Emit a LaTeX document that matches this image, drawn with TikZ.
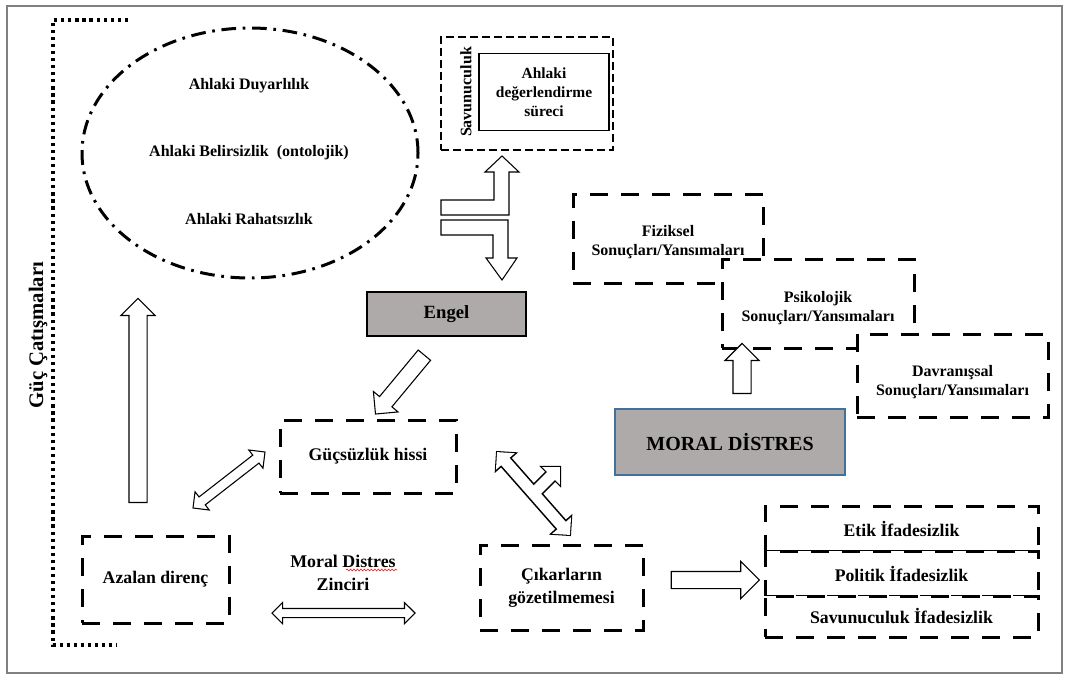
\documentclass[tikz,border=0pt]{standalone}
\usepackage{fontspec}
\setmainfont{Liberation Serif}
\usetikzlibrary{calc,shapes.geometric,shapes.arrows,decorations.pathmorphing}
\definecolor{boxgray}{HTML}{AEAAAA}
\definecolor{moralblue}{HTML}{41719C}
\newcommand{\blockarrow}[3][]{%
  \path let \p1=($(#3)-(#2)$) in
    node[#1, minimum height={veclen(\x1,\y1)}, rotate={atan2(\y1,\x1)}] at ($(#2)!0.5!(#3)$) {};}

\begin{document}
\begin{tikzpicture}[x=0.75pt, y=-0.75pt,
  every node/.style={font=\bfseries},
  dbox/.style={draw, line width=2.25pt, dash pattern=on 13.5pt off 9.75pt, fill=white, align=center, inner sep=0pt,
    font=\bfseries\fontsize{13.3}{17.25}\selectfont},
  restext/.style={align=center, font=\bfseries\fontsize{12}{14.25}\selectfont},
  graybox/.style={draw, line width=1.1pt, fill=boxgray, inner sep=0pt},
  sarr/.style 2 args={single arrow, draw, fill=white, line width=0.8pt, inner xsep=0pt, inner ysep=0.5*#1,
    single arrow head extend=#2},
  darr/.style 2 args={double arrow, draw, fill=white, line width=0.8pt, inner xsep=0pt, inner ysep=0.5*#1,
    double arrow head extend=#2},
  ]
\useasboundingbox (0,0) rectangle (1067,675);
\draw[gray, line width=0.8pt] (7,6) rectangle (1062,673);

\draw[line width=2.5pt, dash pattern=on 2.4pt off 2.9pt] (128,20) -| (53,645) -- (117,645);
\node[rotate=90, font=\bfseries\fontsize{15.5}{18}\selectfont] (guc) at (38,335) {Güç Çatışmaları};

\node[ellipse, draw, line width=2.25pt, dash pattern=on 11pt off 5pt on 2pt off 5pt,
  minimum width=252pt, minimum height=187.5pt, inner sep=0pt] (ahlak) at (250,153) {};
\node[font=\bfseries\fontsize{12}{14}\selectfont] (duy) at (249,86) {Ahlaki Duyarlılık};
\node[font=\bfseries\fontsize{12}{14}\selectfont] (bel) at (249,153) {Ahlaki Belirsizlik\ \ (ontolojik)};
\node[font=\bfseries\fontsize{12}{14}\selectfont] (rah) at (249,219) {Ahlaki Rahatsızlık};

\node[draw, line width=1.1pt, dash pattern=on 6pt off 3pt, minimum width=129pt, minimum height=84.75pt] (sav) at (527,93.5) {};
\node[draw, line width=1.3pt, minimum width=97.5pt, minimum height=57.75pt, align=center, inner sep=0pt,
  font=\bfseries\fontsize{11.6}{14.25}\selectfont] (deger) at (544,92) {Ahlaki\\değerlendirme\\süreci};
\node[rotate=90, font=\bfseries\fontsize{12}{14}\selectfont] (savtxt) at (466,92) {Savunuculuk};

\draw[fill=white, line width=0.8pt] (441,200) -- (494,200) -- (494,172) -- (485,172) -- (502,156) -- (519,172)
  -- (509,172) -- (509,215) -- (441,215) -- cycle;
\draw[fill=white, line width=0.8pt] (441,220) -- (508,220) -- (508,258) -- (517,258) -- (502,280) -- (486,258)
  -- (493,258) -- (493,235) -- (441,235) -- cycle;

\node[graybox, minimum width=119.25pt, minimum height=33pt, font=\bfseries\fontsize{14}{16}\selectfont] (engel) at (446.5,314) {Engel};
\node[graybox, draw=moralblue, minimum width=172.5pt, minimum height=49.5pt, font=\bfseries\fontsize{15}{18}\selectfont] (moral) at (730,442) {MORAL DİSTRES};

\node[dbox, minimum width=132pt, minimum height=54.75pt] (gucsuz) at (368,456.5) {Güçsüzlük hissi};
\node[dbox, minimum width=110.25pt, minimum height=65.25pt] (azalan) at (155.5,579.5) {Azalan direnç};
\node[dbox, minimum width=122.25pt, minimum height=63.75pt] (cikar) at (561.5,587.5) {Çıkarların\\gözetilmemesi};

\node[dbox, minimum width=142.5pt, minimum height=66.75pt] (fiz) at (668,238.5) {};
\node[dbox, minimum width=144pt, minimum height=66.75pt] (psi) at (818,303.5) {};
\node[dbox, minimum width=143.25pt, minimum height=62.25pt] (dav) at (952.5,375.5) {};
\node[restext] (fiztxt) at ($(fiz)+(0,4)$) {Fiziksel\\Sonuçları/Yansımaları};
\node[restext] (psitxt) at ($(psi)+(0,5)$) {Psikolojik\\Sonuçları/Yansımaları};
\node[restext] (davtxt) at ($(dav)+(0,7)$) {Davranışsal\\Sonuçları/Yansımaları};

\node[dbox, minimum width=204.75pt, minimum height=33.75pt] (etik) at (901.5,528.5) {Etik İfadesizlik};
\node[dbox, minimum width=204.75pt, minimum height=33.75pt] (pol) at (901.5,573.5) {Politik İfadesizlik};
\node[dbox, minimum width=204.75pt, minimum height=30.75pt] (savif) at (901.5,616.5) {Savunuculuk İfadesizlik};

\node[align=center, font=\bfseries\fontsize{13.4}{17.25}\selectfont] (zincir) at (343,573) {Moral Distres\\Zinciri};
\draw[red, line width=0.4pt, decorate, decoration={snake, amplitude=0.7pt, segment length=2.6pt}] (346,570) -- (397,570);

\coordinate (a1) at (138,507);
\coordinate (a2) at (138,303);
\coordinate (m1) at (742,398);
\coordinate (m2) at (742,348);
\coordinate (e1) at (427,352);
\coordinate (e2) at (378,411);
\coordinate (c1) at (667,580);
\coordinate (c2) at (755,580);
\coordinate (d1) at (193,508);
\coordinate (d2) at (265,452);
\coordinate (z1) at (272,613);
\coordinate (z2) at (415,613);
\coordinate (g1) at (497,452);
\coordinate (g2) at (570,535);
\coordinate (gm) at (533.5,493.5);
\coordinate (gb) at (558,469);

\blockarrow[sarr={12.75pt}{6pt}]{a1}{a2}
\blockarrow[sarr={12.75pt}{6pt}]{m1}{m2}
\blockarrow[sarr={11.25pt}{6pt}]{e1}{e2}
\blockarrow[sarr={12pt}{7.5pt}]{c1}{c2}
\blockarrow[darr={6.75pt}{4.9pt}]{d1}{d2}
\blockarrow[darr={6pt}{4.5pt}]{z1}{z2}

\blockarrow[darr={7.5pt}{5.25pt}, line width=1.6pt, fill=none]{g1}{g2}
\blockarrow[sarr={7.5pt}{5.25pt}, line width=1.6pt, fill=none]{gm}{gb}
\blockarrow[darr={7.5pt}{5.25pt}, draw=none]{g1}{g2}
\blockarrow[sarr={7.5pt}{5.25pt}, draw=none]{gm}{gb}
\end{tikzpicture}
\end{document}
